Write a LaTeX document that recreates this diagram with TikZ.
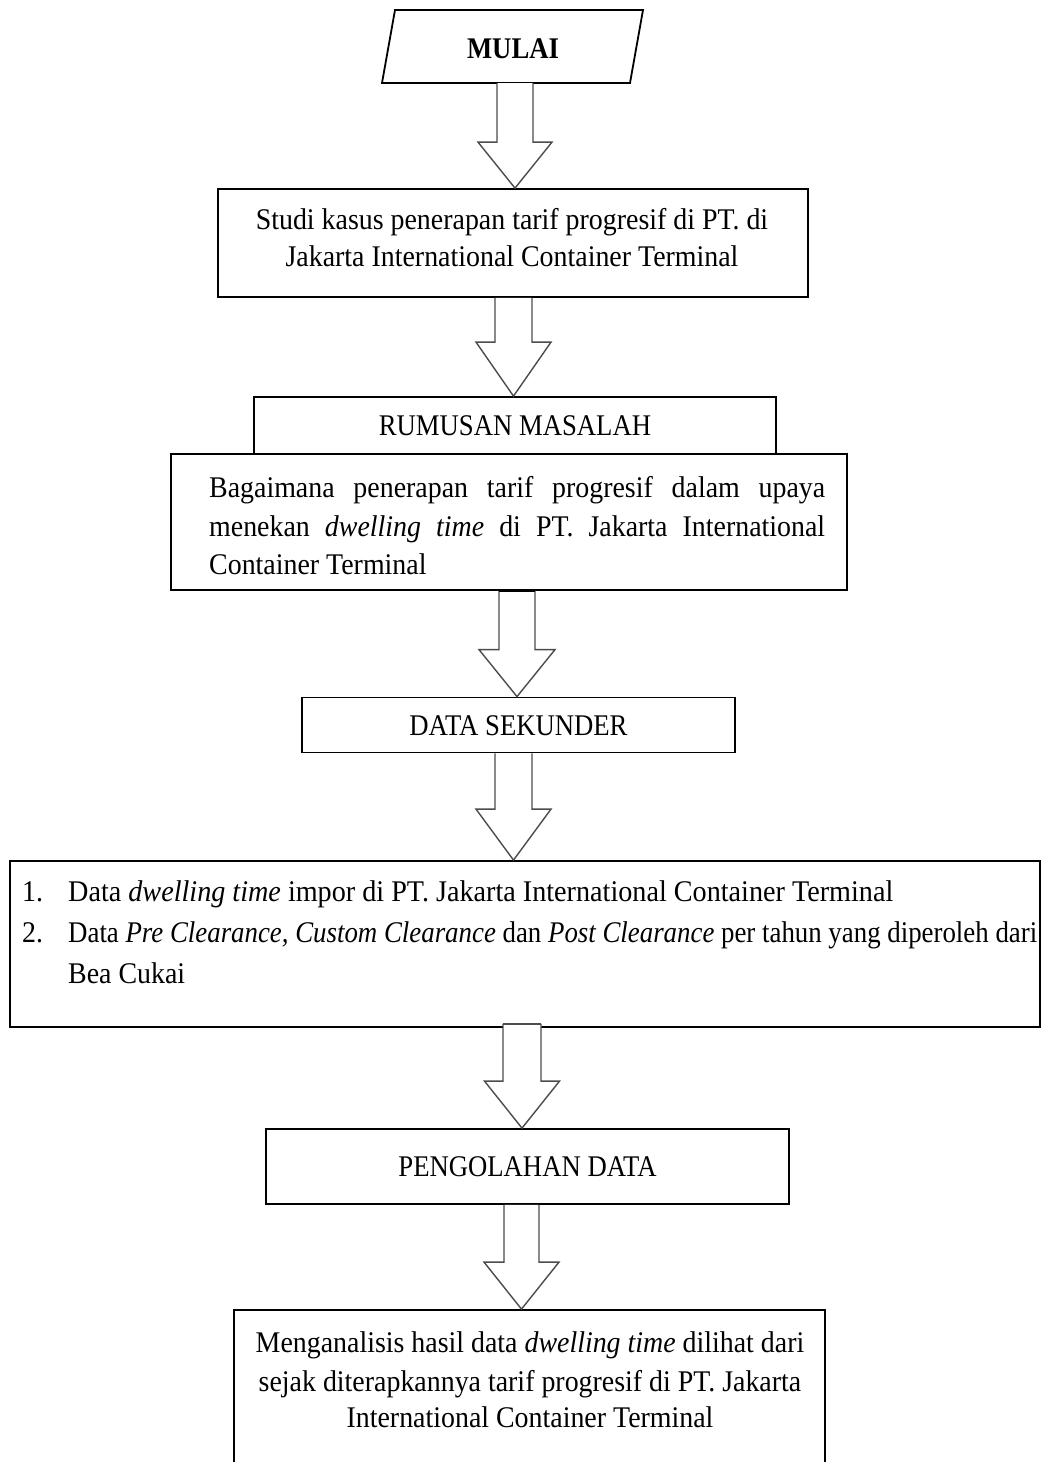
\documentclass[tikz,border=0pt]{standalone}
\usepackage{graphicx}
\usepackage{fontspec}
\setmainfont{Liberation Serif}[FakeStretch=0.93]
\newfontfamily\capsfont{Liberation Serif}[FakeStretch=0.89]
\usetikzlibrary{calc}
\newcommand{\blockarrow}[6][]{%
  \draw[arrowline,#1] ($(#2)+(-#4,0)$) -- ($(#3)+(-#4,-#6)$) -- ($(#3)+(-#5,-#6)$) -- (#3)
    -- ($(#3)+(#5,-#6)$) -- ($(#3)+(#4,-#6)$) -- ($(#2)+(#4,0)$);}
\begin{document}
\begin{tikzpicture}[x=1pt,y=-1pt,
  font=\fontsize{30}{37}\selectfont,
  box/.style={draw=black,line width=1.8pt,rectangle,inner sep=0pt,
     text height=20pt,text depth=0pt,font=\fontsize{30}{37}\selectfont\capsfont},
  plainbox/.style={draw=black,line width=1.8pt,rectangle,inner sep=0pt},
  txt/.style={inner sep=0pt,anchor=base west},
  ctxt/.style={inner sep=0pt,anchor=base},
  arrowline/.style={draw=black!70,line width=1.4pt,line join=miter,fill=white}]
\useasboundingbox (0,0) rectangle (1043,1462);
\fill[white] (0,0) rectangle (1043,1462);

% start shape (parallelogram)
\coordinate (p1) at (395,10);
\coordinate (p2) at (643,10);
\coordinate (p3) at (630,83);
\coordinate (p4) at (382,83);
\draw[black,line width=1.8pt,line join=miter] (p1) -- (p2) -- (p3) -- (p4) -- cycle;
\node[inner sep=0pt,text height=20pt,text depth=0pt,font=\fontsize{30}{37}\selectfont\capsfont\bfseries]
  (mulai) at (513,48) {MULAI};

\node[plainbox,minimum width=590pt,minimum height=108pt] (studi) at (513,243) {};
\node[ctxt] (s1) at (512,229) {Studi kasus penerapan tarif progresif di PT. di};
\node[ctxt] (s2) at (512,266) {Jakarta International Container Terminal};

\node[box,minimum width=522pt,minimum height=57pt] (rumus) at (515,425.5) {RUMUSAN MASALAH};

\node[plainbox,minimum width=676pt,minimum height=136pt] (rumusan) at (509,522) {};
\node[txt] (r1) at (209,497) {\makebox[616pt][s]{Bagaimana penerapan tarif progresif dalam upaya}};
\node[txt] (r2) at (209,536) {\makebox[616pt][s]{menekan \textit{dwelling time} di PT. Jakarta International}};
\node[txt] (r3) at (209,574) {Container Terminal};

\node[box,minimum width=433pt,minimum height=55pt] (data) at (518.5,725) {DATA SEKUNDER};

\node[plainbox,minimum width=1030pt,minimum height=166pt] (list) at (525,944) {};
\node[txt] (l1) at (22,901) {\makebox[46pt][l]{1.}\resizebox{825pt}{\height}{Data \textit{dwelling time} impor di PT. Jakarta International Container Terminal}};
\node[txt] (l2) at (22,942) {\makebox[46pt][l]{2.}\resizebox{969pt}{\height}{Data \textit{Pre Clearance, Custom Clearance} dan \textit{Post Clearance} per tahun yang diperoleh dari}};
\node[txt] (l3) at (68,983) {Bea Cukai};

\node[box,minimum width=523pt,minimum height=75pt] (olah) at (527.5,1166.5) {PENGOLAHAN DATA};

\node[plainbox,minimum width=591pt,minimum height=190pt] (hasil) at (529.5,1405) {};
\node[ctxt] (h1) at (530,1352) {Menganalisis hasil data \textit{dwelling time} dilihat dari};
\node[ctxt] (h2) at (530,1391) {sejak diterapkannya tarif progresif di PT. Jakarta};
\node[ctxt] (h3) at (530,1427) {International Container Terminal};

% arrow coordinates
\coordinate (a1s) at (515,0 |- p4);
\coordinate (a1t) at (515,0 |- studi.north);
\coordinate (a2s) at (513.5,0 |- studi.south);
\coordinate (a2t) at (513.5,0 |- rumus.north);
\coordinate (a3s) at (517,0 |- rumusan.south);
\coordinate (a3t) at (517,0 |- data.north);
\coordinate (a4s) at (513.5,0 |- data.south);
\coordinate (a4t) at (513.5,0 |- list.north);
\coordinate (a5s) at (522,0 |- list.south);
\coordinate (a5t) at (522,0 |- olah.north);
\coordinate (a6s) at (521.5,0 |- olah.south);
\coordinate (a6t) at (521.5,0 |- hasil.north);

\blockarrow{a1s}{a1t}{18}{37}{46}
\blockarrow{a2s}{a2t}{18.5}{37.5}{54}
\blockarrow{a3s}{a3t}{18}{38}{47}
\draw[black,line width=3pt] ($(a3s)+(-18,0)$) -- ($(a3s)+(18,0)$);
\blockarrow{a4s}{a4t}{18.5}{37.5}{51}
\coordinate (a5top) at ($(a5s)+(0,-4)$);
\blockarrow{a5top}{a5t}{19}{37.5}{47}
\draw[arrowline] ($(a5top)+(-19,0)$) -- ($(a5top)+(19,0)$);
\blockarrow{a6s}{a6t}{17.5}{37.5}{47}
\end{tikzpicture}
\end{document}
